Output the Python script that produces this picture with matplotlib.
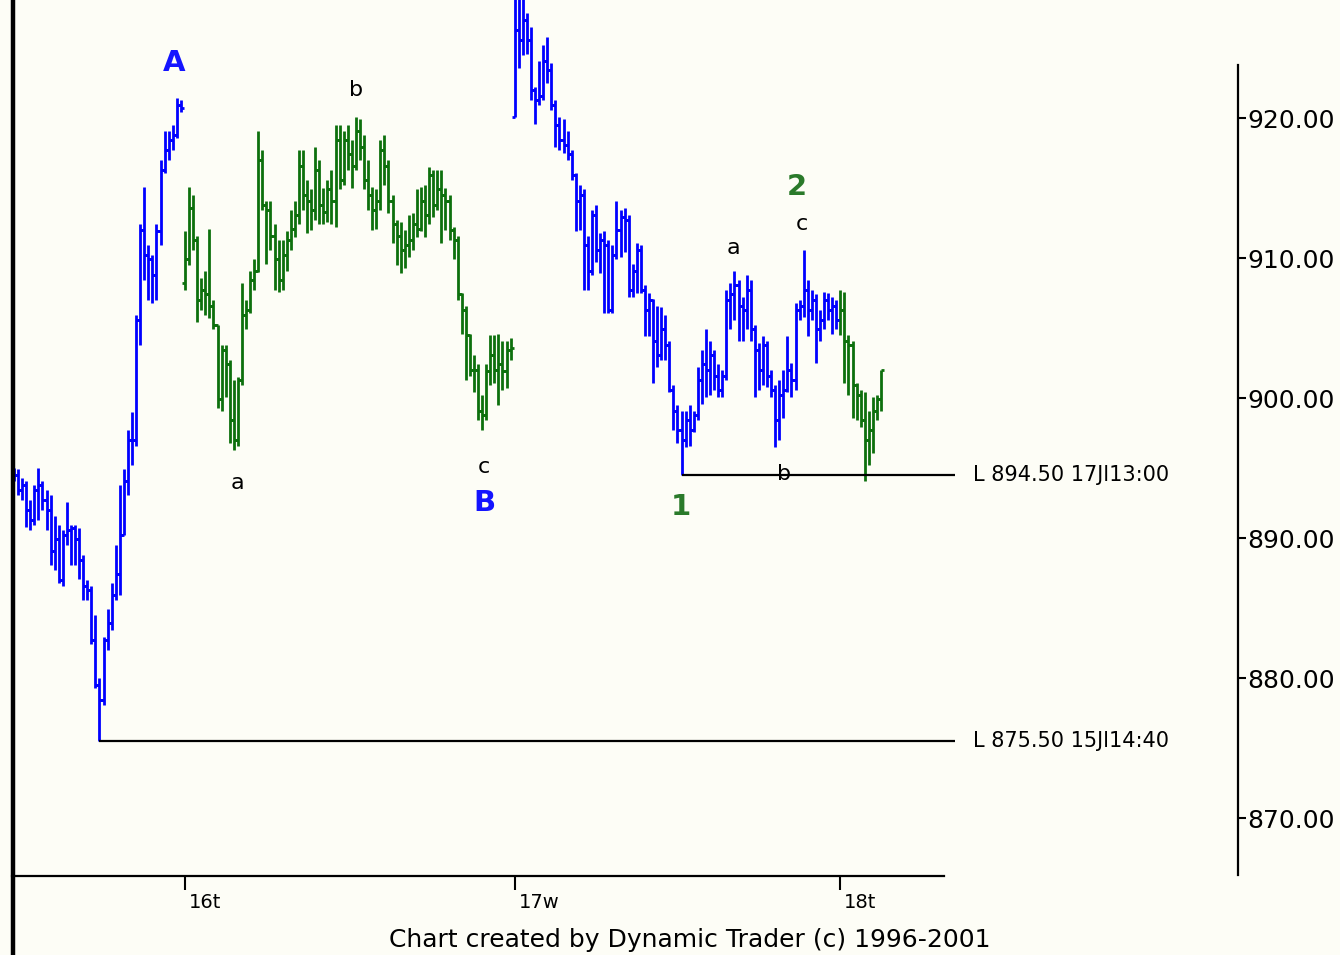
import matplotlib
matplotlib.use('Agg')
import matplotlib.pyplot as plt
import matplotlib.transforms as mtransforms
from matplotlib.lines import Line2D

# 5-minute bars, 15 Jul (afternoon) .. 18 Jul (morning)
opens = [
    894.9, 894.5, 893.4, 893.8, 892.0, 891.3, 893.4, 893.8, 892.7, 892.0,
    889.1, 889.9, 887.0, 890.2, 890.6, 890.7, 889.9, 888.4, 886.6, 886.3,
    882.7, 879.5, 878.4, 882.7, 883.9, 885.9, 887.4, 890.2, 894.1, 897.0,
    897.0, 905.6, 912.0, 910.2, 909.9, 908.8, 911.9, 916.3, 917.7, 918.4,
    918.8, 920.9,
    908.2, 909.9, 913.6, 911.3, 907.0, 907.7, 907.4, 906.6, 905.2, 899.9,
    903.4, 902.4, 898.4, 897.0, 901.3, 905.9, 906.3, 908.4, 909.1, 917.0,
    913.8, 913.4, 911.6, 909.9, 908.4, 910.2, 911.3, 912.1, 913.1, 916.6,
    914.5, 914.1, 913.4, 916.3, 913.8, 913.3, 914.9, 914.1, 918.4, 915.6,
    918.4, 917.4, 916.6, 919.1, 917.9, 915.6, 914.5, 913.4, 914.1, 917.7,
    916.6, 914.1, 912.4, 911.6, 910.6, 910.9, 911.3, 912.4, 912.1, 914.1,
    913.1, 915.9, 913.8, 914.9, 914.5, 914.1, 912.0, 911.3, 907.4, 906.3,
    904.5, 902.0, 902.0, 899.1, 898.8, 901.9, 903.1, 902.0, 902.4, 901.9,
    903.4,
    920.1, 926.3, 925.6, 927.0, 925.6, 922.0, 921.3, 921.6, 924.1, 923.4,
    920.9, 919.5, 918.4, 918.1, 917.4, 915.9, 914.1, 914.5, 910.9, 909.1,
    913.1, 910.6, 911.3, 910.9, 906.3, 910.2, 912.0, 912.9, 912.7, 907.7,
    909.1, 910.6, 907.7, 906.3, 907.0, 904.1, 903.1, 904.9, 903.8, 900.6,
    899.1, 897.7, 897.0, 898.4, 897.7, 898.8, 901.3, 902.4, 902.0, 903.1,
    901.6, 900.6, 901.6, 907.0, 907.4, 908.1, 906.6, 906.3, 907.7, 904.9,
    903.4, 902.0, 903.8, 901.6, 900.6, 898.4, 900.2, 900.6, 902.0, 901.3,
    906.3, 906.6, 907.7, 906.3, 907.0, 904.9, 905.6, 907.0, 906.3, 906.6,
    905.6, 906.3, 904.1, 903.8, 900.9, 900.2, 898.4, 897.0, 897.7, 899.1,
    899.9,
]
highs = [
    895.0, 894.9, 894.3, 894.1, 892.7, 893.8, 895.0, 894.1, 893.4, 893.1,
    891.6, 890.9, 890.6, 892.6, 890.9, 890.9, 890.7, 888.8, 887.0, 886.6,
    884.5, 880.0, 882.9, 884.9, 886.8, 889.5, 893.8, 894.9, 897.7, 899.0,
    905.9, 912.4, 915.1, 910.9, 910.2, 912.4, 917.0, 919.1, 919.1, 919.5,
    921.4, 921.3,
    911.9, 915.1, 914.5, 911.6, 908.6, 909.1, 912.1, 907.0, 905.2, 903.8,
    903.8, 902.7, 901.3, 901.5, 908.2, 907.0, 909.1, 909.9, 919.1, 917.7,
    914.1, 914.1, 912.4, 911.3, 911.3, 911.9, 913.4, 914.1, 917.7, 917.7,
    915.6, 914.9, 917.9, 917.0, 915.0, 915.6, 916.3, 919.5, 919.5, 919.1,
    919.5, 918.4, 920.1, 919.9, 918.8, 917.0, 915.1, 914.9, 918.4, 918.8,
    917.0, 914.5, 912.7, 912.6, 912.0, 913.1, 913.2, 914.9, 915.1, 915.2,
    916.5, 916.3, 916.3, 916.3, 915.0, 914.5, 912.2, 911.6, 907.5, 906.6,
    904.6, 903.1, 902.4, 900.2, 902.4, 904.5, 904.5, 904.6, 904.1, 904.1,
    904.3,
    930.0, 929.1, 929.5, 927.5, 926.5, 922.2, 924.1, 925.2, 925.8, 923.9,
    921.3, 920.1, 919.9, 919.1, 917.7, 916.1, 915.2, 914.9, 911.6, 913.4,
    913.8, 911.8, 911.9, 911.3, 910.9, 914.1, 913.4, 913.6, 913.1, 909.6,
    911.1, 910.9, 908.1, 907.5, 907.1, 906.6, 906.5, 905.9, 904.1, 900.9,
    899.5, 899.1, 899.1, 899.5, 899.1, 902.2, 903.4, 904.9, 904.1, 903.4,
    902.4, 902.0, 907.7, 908.2, 909.1, 908.4, 907.2, 908.8, 908.4, 905.2,
    903.9, 904.4, 904.1, 902.0, 900.9, 901.3, 902.0, 904.4, 902.5, 906.8,
    907.0, 910.6, 908.4, 907.7, 907.4, 906.3, 907.6, 907.5, 907.2, 907.0,
    907.7, 907.6, 904.5, 904.1, 901.1, 900.6, 900.4, 899.1, 900.1, 900.2,
    902.0,
]
lows = [
    894.1, 893.1, 892.7, 890.8, 890.6, 890.9, 891.3, 892.0, 890.6, 888.1,
    887.7, 886.8, 886.6, 889.5, 888.1, 888.1, 887.1, 885.6, 885.6, 882.4,
    879.3, 875.5, 878.1, 882.0, 883.4, 885.6, 885.9, 890.2, 893.1, 895.2,
    896.6, 903.8, 908.4, 907.0, 906.8, 907.0, 910.9, 916.1, 917.0, 917.7,
    918.6, 920.4,
    907.7, 909.5, 910.6, 905.4, 906.3, 905.9, 905.7, 904.9, 899.3, 899.1,
    900.1, 896.8, 896.3, 896.6, 900.9, 904.9, 906.1, 907.7, 909.0, 913.4,
    909.6, 910.6, 907.7, 907.6, 907.7, 909.1, 910.6, 911.5, 912.4, 913.4,
    911.8, 912.0, 912.7, 912.4, 912.4, 912.6, 912.4, 912.2, 914.9, 915.2,
    916.3, 915.0, 916.3, 917.0, 914.9, 913.4, 912.0, 912.1, 913.4, 915.2,
    913.2, 911.1, 909.5, 908.9, 909.3, 910.1, 910.6, 911.5, 911.9, 911.5,
    912.4, 912.9, 913.4, 911.1, 912.0, 911.3, 909.9, 907.0, 904.6, 901.3,
    901.6, 900.4, 898.4, 897.7, 898.4, 900.9, 901.1, 899.5, 900.6, 900.7,
    902.7,
    920.1, 923.6, 924.5, 924.6, 921.3, 919.6, 920.9, 921.3, 922.5, 920.6,
    917.9, 917.7, 917.5, 917.0, 915.6, 911.9, 912.0, 907.7, 907.7, 908.8,
    909.7, 908.9, 906.1, 906.1, 906.1, 909.9, 910.1, 910.4, 907.2, 907.2,
    907.5, 907.5, 904.4, 904.4, 901.1, 902.2, 902.7, 902.7, 900.4, 897.7,
    896.8, 894.5, 896.5, 896.6, 897.6, 898.4, 899.6, 900.1, 900.2, 900.6,
    900.1, 900.1, 901.3, 904.9, 905.6, 904.1, 904.1, 904.9, 904.1, 900.1,
    900.6, 900.9, 900.8, 900.1, 896.5, 897.0, 898.6, 900.4, 900.1, 900.6,
    905.6, 905.8, 904.4, 905.6, 902.5, 904.1, 904.9, 905.6, 904.6, 904.9,
    904.5, 901.1, 900.2, 898.6, 898.4, 897.9, 894.1, 895.2, 896.1, 898.4,
    899.1,
]
closes = [
    894.5, 893.4, 893.8, 892.0, 891.3, 893.4, 893.8, 892.7, 892.0, 889.1,
    889.9, 887.0, 890.2, 890.6, 890.7, 889.9, 888.4, 886.6, 886.3, 882.7,
    879.5, 878.4, 882.7, 883.9, 885.9, 887.4, 890.2, 894.1, 897.0, 897.0,
    905.6, 912.0, 910.2, 909.9, 908.8, 911.9, 916.3, 917.7, 918.4, 918.8,
    920.9, 920.7,
    909.9, 913.6, 911.3, 907.0, 907.7, 907.4, 906.6, 905.2, 899.9, 903.4,
    902.4, 898.4, 897.0, 901.3, 905.9, 906.3, 908.4, 909.1, 917.0, 913.8,
    913.4, 911.6, 909.9, 908.4, 910.2, 911.3, 912.1, 913.1, 916.6, 914.5,
    914.1, 913.4, 916.3, 913.8, 913.3, 914.9, 914.1, 918.4, 915.6, 918.4,
    917.4, 916.6, 919.1, 917.9, 915.6, 914.5, 913.4, 914.1, 917.7, 916.6,
    914.1, 912.4, 911.6, 910.6, 910.9, 911.3, 912.4, 912.1, 914.1, 913.1,
    915.9, 913.8, 914.9, 914.5, 914.1, 912.0, 911.3, 907.4, 906.3, 904.5,
    902.0, 902.0, 899.1, 898.8, 901.9, 903.1, 902.0, 902.4, 901.9, 903.4,
    903.6,
    926.3, 925.6, 927.0, 925.6, 922.0, 921.3, 921.6, 924.1, 923.4, 920.9,
    919.5, 918.4, 918.1, 917.4, 915.9, 914.1, 914.5, 910.9, 909.1, 913.1,
    910.6, 911.3, 910.9, 906.3, 910.2, 912.0, 912.9, 912.7, 907.7, 909.1,
    910.6, 907.7, 906.3, 907.0, 904.1, 903.1, 904.9, 903.8, 900.6, 899.1,
    897.7, 897.0, 898.4, 897.7, 898.8, 901.3, 902.4, 902.0, 903.1, 901.6,
    900.6, 901.6, 907.0, 907.4, 908.1, 906.6, 906.3, 907.7, 904.9, 903.4,
    902.0, 903.8, 901.6, 900.6, 898.4, 900.2, 900.6, 902.0, 901.3, 906.3,
    906.6, 907.7, 906.3, 907.0, 904.9, 905.6, 907.0, 906.3, 906.6, 905.6,
    906.3, 904.1, 903.8, 900.9, 900.2, 898.4, 897.0, 897.7, 899.1, 899.9,
    902.0,
]

seg_bounds = [0, 42, 123, 203, len(closes)]
seg_colors = ['#0000ff', '#0d700d', '#0000ff', '#0d700d']

day_starts = [42, 123, 203]
day_labels = ['16t', '17w', '18t']
price_ticks = [870, 880, 890, 900, 910, 920]

levels = [875.5, 894.5]
level_times = ['15Jl14:40', '17Jl13:00']

wave_text = ['A', 'B', '1', '2', 'b', 'a', 'c', 'a', 'c', 'b']
wave_x = [39.3, 115.5, 163.9, 192.4, 84.0, 54.8, 115.5, 176.7, 193.6, 189.2]
wave_y = [923.9, 892.5, 892.2, 915.1, 922.0, 893.9, 895.1, 910.7, 912.4, 894.6]
wave_color = ['#1414ff', '#1414ff', '#2a7a2a', '#2a7a2a',
              'black', 'black', 'black', 'black', 'black', 'black']

bg = '#fdfdf6'
fig = plt.figure(figsize=(13.4, 9.55), dpi=100, facecolor=bg)
W, H = 1340.0, 955.0
ax = fig.add_axes([12 / W, 79 / H, 1226 / W, 876 / H])
ax.set_facecolor(bg)
ax.set_xlim(-0.49, 300.7)
ax.set_ylim(865.86, 928.43)

# bar colours by wave segment
bar_colors = []
for k in range(len(seg_colors)):
    bar_colors += [seg_colors[k]] * (seg_bounds[k + 1] - seg_bounds[k])
xs = list(range(len(closes)))
lw = 2.0
ax.vlines(xs, lows, highs, colors=bar_colors, lw=lw)
ax.hlines(opens, [x - 0.75 for x in xs], xs, colors=bar_colors, lw=lw)
ax.hlines(closes, xs, [x + 0.75 for x in xs], colors=bar_colors, lw=lw)

# swing low lines
for lev, tm in zip(levels, level_times):
    i0 = lows.index(lev)
    ax.hlines(lev, i0, 231.2, colors='black', lw=1.6)
    ax.text(235.6, lev, 'L %.2f %s' % (lev, tm), fontsize=15, va='center', ha='left')

# wave labels
for t, x, y, c in zip(wave_text, wave_x, wave_y, wave_color):
    if c == 'black':
        ax.text(x, y, t, fontsize=16, color=c, ha='center', va='center')
    else:
        ax.text(x, y, t, fontsize=21, color=c, ha='center', va='center', fontweight='bold')

# axes
for s in ['top', 'left']:
    ax.spines[s].set_visible(False)
ax.spines['bottom'].set_linewidth(1.6)
ax.spines['bottom'].set_bounds(-0.49, 228.5)
ax.spines['right'].set_linewidth(1.6)
ax.spines['right'].set_bounds(865.9, 923.8)

ax.set_xticks(day_starts, labels=day_labels)
ax.tick_params(axis='x', length=10, width=1.5, direction='out', labelsize=14, pad=2)
off = mtransforms.ScaledTranslation(4 / 100, 0, fig.dpi_scale_trans)
for lbl in ax.get_xticklabels():
    lbl.set_ha('left')
    lbl.set_transform(lbl.get_transform() + off)

ax.yaxis.tick_right()
ax.set_yticks(price_ticks, labels=['%.2f' % v for v in price_ticks])
ax.tick_params(axis='y', length=6, width=1.5, direction='out', labelsize=18, pad=1)

# thick left border
fig.add_artist(Line2D([13 / W, 13 / W], [0, 1], color='black', lw=3.2, transform=fig.transFigure))

fig.text(690 / W, (H - 940) / H, 'Chart created by Dynamic Trader (c) 1996-2001',
         fontsize=18, ha='center', va='center')

fig.savefig('out.png', dpi=100, facecolor=bg)
